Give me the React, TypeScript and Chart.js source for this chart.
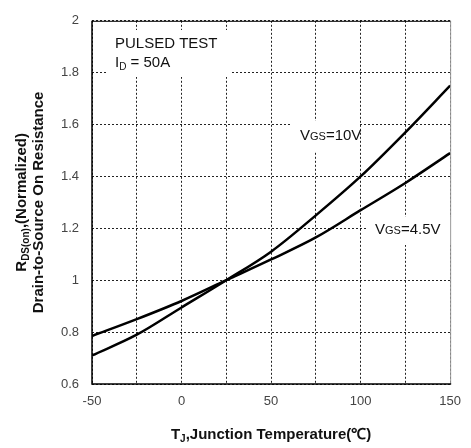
import React, { useEffect, useRef } from "react";
import { Chart, registerables } from "chart.js";

Chart.register(...registerables);

const temps = [-50, -25, 0, 25, 50, 75, 100, 125, 150];
const vgs10 = [0.71, 0.79, 0.895, 1.0, 1.11, 1.25, 1.4, 1.57, 1.75];
const vgs45 = [0.785, 0.85, 0.92, 1.0, 1.08, 1.165, 1.27, 1.375, 1.49];
const xLabeled = [-50, 0, 50, 100, 150];

const FONT = "'Liberation Sans', Arial, sans-serif";

function drawSub(ctx: CanvasRenderingContext2D, parts: { t: string; size: number; bold?: boolean; dy?: number }[], x: number, y: number, align: "left" | "center") {
  let total = 0;
  const widths = parts.map((p) => {
    ctx.font = `${p.bold ? "bold " : ""}${p.size}px ${FONT}`;
    const w = ctx.measureText(p.t).width;
    total += w;
    return w;
  });
  let cx = align === "center" ? x - total / 2 : x;
  parts.forEach((p, i) => {
    ctx.font = `${p.bold ? "bold " : ""}${p.size}px ${FONT}`;
    ctx.fillText(p.t, cx, y + (p.dy || 0));
    cx += widths[i];
  });
}

const overlay = {
  id: "overlay",
  beforeDatasetsDraw(chart: any) {
    const ctx = chart.ctx as CanvasRenderingContext2D;
    ctx.save();
    ctx.fillStyle = "#fff";
    ctx.fillRect(106, 30, 125, 47);
    ctx.fillRect(292, 121, 68, 31);
    ctx.fillRect(366, 217, 88, 28);
    ctx.fillStyle = "#111";
    ctx.textBaseline = "middle";
    ctx.textAlign = "left";
    drawSub(ctx, [{ t: "PULSED TEST", size: 15 }], 115, 44, "left");
    drawSub(ctx, [{ t: "I", size: 15 }, { t: "D", size: 10, dy: 4 }, { t: " = 50A", size: 15 }], 115, 63, "left");
    drawSub(ctx, [{ t: "V", size: 15 }, { t: "GS", size: 11, dy: 1 }, { t: "=10V", size: 15 }], 300, 136, "left");
    drawSub(ctx, [{ t: "V", size: 15 }, { t: "GS", size: 11, dy: 1 }, { t: "=4.5V", size: 15 }], 375, 230, "left");
    ctx.restore();
  },
  afterDraw(chart: any) {
    const ctx = chart.ctx as CanvasRenderingContext2D;
    const a = chart.chartArea;
    ctx.save();
    ctx.setLineDash([]);
    ctx.strokeStyle = "#999";
    ctx.lineWidth = 1;
    ctx.beginPath();
    ctx.moveTo(a.right + 0.5, a.top);
    ctx.lineTo(a.right + 0.5, a.bottom);
    ctx.stroke();
    ctx.strokeStyle = "#000";
    ctx.beginPath();
    ctx.moveTo(a.left, a.top + 0.5);
    ctx.lineTo(a.right, a.top + 0.5);
    ctx.stroke();
    ctx.lineWidth = 1.5;
    ctx.beginPath();
    ctx.moveTo(a.left, a.top);
    ctx.lineTo(a.left, a.bottom);
    ctx.lineTo(a.right + 1, a.bottom);
    ctx.stroke();

    ctx.fillStyle = "#111";
    ctx.textBaseline = "middle";
    drawSub(ctx, [
      { t: "T", size: 15, bold: true },
      { t: "J", size: 10, bold: true, dy: 4 },
      { t: ",Junction Temperature(\u2103)", size: 15, bold: true },
    ], (a.left + a.right) / 2, 435, "center");

    const cy = (a.top + a.bottom) / 2;
    ctx.translate(22, cy);
    ctx.rotate(-Math.PI / 2);
    drawSub(ctx, [
      { t: "R", size: 15, bold: true },
      { t: "DS(on)", size: 10, bold: true, dy: 4 },
      { t: ",(Normalized)", size: 15, bold: true },
    ], 0, 0, "center");
    drawSub(ctx, [{ t: "Drain-to-Source On Resistance", size: 15, bold: true }], 0, 17, "center");
    ctx.restore();
  },
};

export default function App() {
  const ref = useRef<HTMLCanvasElement | null>(null);
  useEffect(() => {
    if (!ref.current) return;
    const lineStyle = {
      borderColor: "#000",
      borderWidth: 2.5,
      pointRadius: 0,
      fill: false,
      tension: 0.3,
      cubicInterpolationMode: "monotone" as const,
    };
    const chart = new Chart(ref.current, {
      type: "line",
      data: {
        datasets: [
          { label: "VGS=10V", data: temps.map((t, i) => ({ x: t, y: vgs10[i] })), ...lineStyle },
          { label: "VGS=4.5V", data: temps.map((t, i) => ({ x: t, y: vgs45[i] })), ...lineStyle },
        ],
      },
      options: {
        animation: false,
        responsive: false,
        devicePixelRatio: 1,
        layout: { padding: { left: 0, right: 16, top: 10, bottom: 0 } },
        plugins: { legend: { display: false }, tooltip: { enabled: false } },
        scales: {
          x: {
            type: "linear",
            min: -50,
            max: 150,
            afterFit: (s: any) => { s.height = 64; },
            ticks: {
              stepSize: 25,
              autoSkip: false,
              maxRotation: 0,
              padding: 10,
              color: "#444",
              font: { family: FONT, size: 13 },
              callback: (v: any) => (xLabeled.includes(Number(v)) ? String(v) : ""),
            },
            grid: { color: "#222", lineWidth: 1, drawTicks: false },
            border: { display: false, dash: [2, 2] },
          },
          y: {
            type: "linear",
            min: 0.6,
            max: 2,
            afterFit: (s: any) => { s.width = 92; },
            ticks: {
              stepSize: 0.2,
              padding: 13,
              color: "#444",
              font: { family: FONT, size: 13 },
              callback: (v: any) => String(Math.round(Number(v) * 10) / 10),
            },
            grid: { color: "#222", lineWidth: 1, drawTicks: false },
            border: { display: false, dash: [2, 2] },
          },
        },
      },
      plugins: [overlay],
    });
    return () => chart.destroy();
  }, []);
  return (
    <div style={{ position: "absolute", left: 0, top: 0, width: 471, height: 448, background: "#fff" }}>
      <canvas ref={ref} width={471} height={448} style={{ width: 471, height: 448, display: "block" }} />
    </div>
  );
}
